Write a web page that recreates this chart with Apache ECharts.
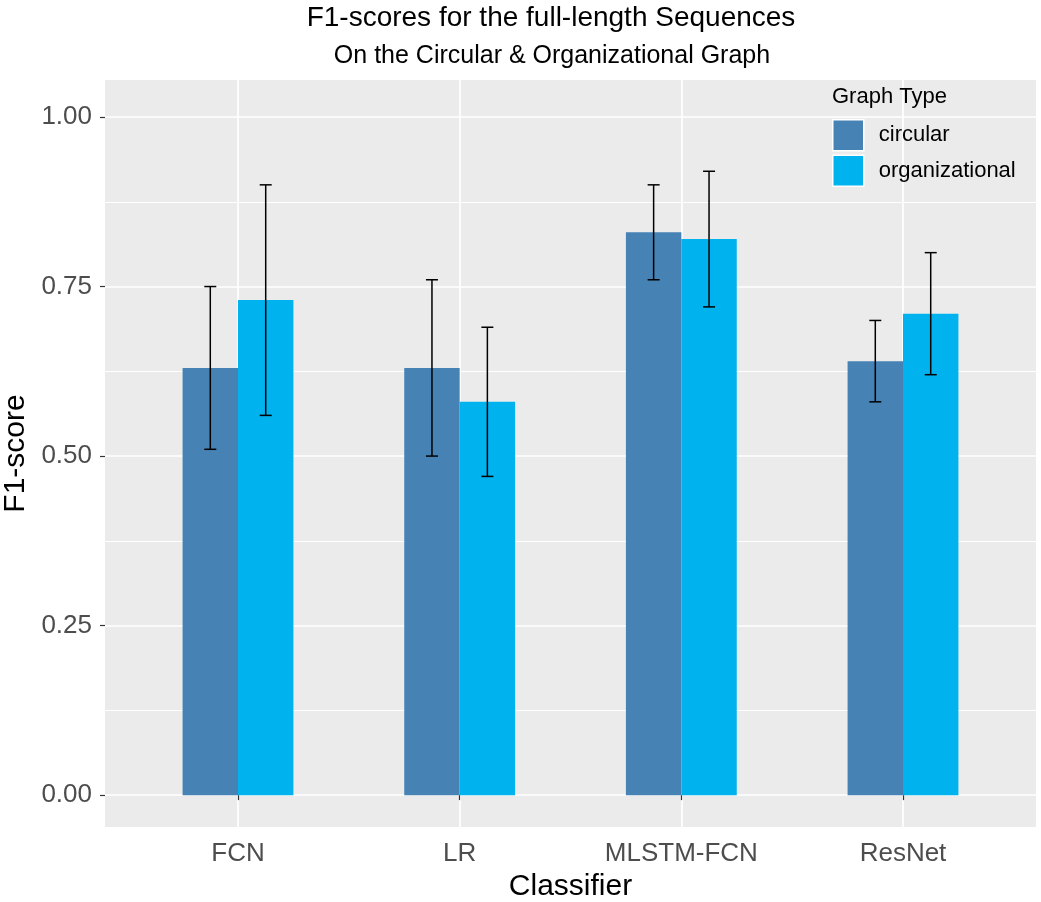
<!DOCTYPE html>
<html>
<head>
<meta charset="utf-8">
<script src="https://cdn.jsdelivr.net/npm/echarts@6/dist/echarts.min.js"></script>
<style>html,body{margin:0;padding:0;background:#fff;}#chart{width:1041px;height:902px;}</style>
</head>
<body>
<div id="chart"></div>
<script>
const categories = ['FCN', 'LR', 'MLSTM-FCN', 'ResNet'];
const seriesNames = ['circular', 'organizational'];
const circular = [0.63, 0.63, 0.83, 0.64];
const circularLow = [0.51, 0.50, 0.76, 0.58];
const circularHigh = [0.75, 0.76, 0.90, 0.70];
const organizational = [0.73, 0.58, 0.82, 0.71];
const organizationalLow = [0.56, 0.47, 0.72, 0.62];
const organizationalHigh = [0.90, 0.69, 0.92, 0.80];
const yTicks = [0, 0.25, 0.5, 0.75, 1.0];
const yMinorTicks = [0.125, 0.375, 0.625, 0.875];

const FONT = '"Liberation Sans", Arial, sans-serif';
const colors = ['#4682B4', '#00B2EE'];
const catPositions = categories.map((c, i) => i + 1);

function buildData(vals, lo, hi) {
  return vals.map((v, i) => [catPositions[i], v, lo[i], hi[i]]);
}

function makeRender(side) {
  return function (params, api) {
    const x = api.value(0), y = api.value(1), lo = api.value(2), hi = api.value(3);
    const x0 = side < 0 ? x - 0.25 : x;
    const x1 = side < 0 ? x : x + 0.25;
    const xm = (x0 + x1) / 2;
    const pTop = api.coord([x0, y]);
    const pBot = api.coord([x1, 0]);
    const eLo = api.coord([xm, lo]);
    const eHi = api.coord([xm, hi]);
    const cap = 6;
    const color = api.visual('color');
    const lineStyle = { stroke: '#000', lineWidth: 1.5 };
    return {
      type: 'group',
      children: [
        { type: 'rect', shape: { x: pTop[0], y: pTop[1], width: pBot[0] - pTop[0], height: pBot[1] - pTop[1] }, style: { fill: color } },
        { type: 'line', z2: 10, shape: { x1: eLo[0], y1: eLo[1], x2: eHi[0], y2: eHi[1] }, style: lineStyle },
        { type: 'line', z2: 10, shape: { x1: eLo[0] - cap, y1: eLo[1], x2: eLo[0] + cap, y2: eLo[1] }, style: lineStyle },
        { type: 'line', z2: 10, shape: { x1: eHi[0] - cap, y1: eHi[1], x2: eHi[0] + cap, y2: eHi[1] }, style: lineStyle }
      ]
    };
  };
}

const chart = echarts.init(document.getElementById('chart'), null, { renderer: 'canvas' });
chart.setOption({
  animation: false,
  backgroundColor: '#ffffff',
  textStyle: { fontFamily: FONT },
  title: [
    { text: 'F1-scores for the full-length Sequences', left: 551, top: 4, padding: 0, textAlign: 'center',
      textStyle: { fontFamily: FONT, fontSize: 28, fontWeight: 'normal', color: '#000' } },
    { text: 'On the Circular & Organizational Graph', left: 552, top: 44, padding: 0, textAlign: 'center',
      textStyle: { fontFamily: FONT, fontSize: 25, fontWeight: 'normal', color: '#000' } },
    { text: 'Graph Type', left: 832, top: 86, padding: 0,
      textStyle: { fontFamily: FONT, fontSize: 22, fontWeight: 'normal', color: '#000' } }
  ],
  legend: {
    orient: 'vertical', left: 832, top: 119, padding: 0,
    itemWidth: 31, itemHeight: 31, itemGap: 3, icon: 'rect',
    data: seriesNames,
    itemStyle: { borderColor: '#fff', borderWidth: 1.5 },
    textStyle: { fontFamily: FONT, fontSize: 22, color: '#000', padding: [0, 0, 0, 10] }
  },
  grid: { left: 105, right: 5, top: 80, bottom: 75, show: true, backgroundColor: '#EBEBEB', borderWidth: 0,
    containLabel: false, outerBoundsMode: 'none' },
  xAxis: {
    type: 'value', min: 0.4, max: 4.6,
    name: 'Classifier', nameLocation: 'middle', nameGap: 43,
    nameTextStyle: { fontFamily: FONT, fontSize: 30, color: '#000' },
    axisLine: { show: false },
    axisTick: { show: true, length: 5, customValues: catPositions, lineStyle: { color: '#333', width: 1.2 } },
    axisLabel: { customValues: catPositions, margin: 14, fontFamily: FONT, fontSize: 26, color: '#4D4D4D',
      formatter: v => categories[Math.round(v) - 1] },
    splitLine: { show: true, lineStyle: { color: '#fff', width: 1.7 } }
  },
  yAxis: [
    {
      type: 'value', min: -0.047, max: 1.0546,
      name: 'F1-score', nameLocation: 'middle', nameGap: 63,
      nameTextStyle: { fontFamily: FONT, fontSize: 30, color: '#000' },
      axisLine: { show: false },
      axisTick: { show: true, length: 5, customValues: yTicks, lineStyle: { color: '#333', width: 1.2 } },
      axisLabel: { customValues: yTicks, margin: 13, fontFamily: FONT, fontSize: 26, color: '#4D4D4D',
        formatter: v => v.toFixed(2) },
      splitLine: { show: true, lineStyle: { color: '#fff', width: 1.7 } }
    },
    {
      type: 'value', min: -0.047, max: 1.0546, position: 'left',
      axisLine: { show: false },
      axisTick: { show: false, customValues: yMinorTicks },
      axisLabel: { show: false, customValues: yMinorTicks },
      splitLine: { show: true, lineStyle: { color: '#fff', width: 1 } }
    }
  ],
  series: [
    { name: seriesNames[0], type: 'custom', renderItem: makeRender(-1), itemStyle: { color: colors[0] },
      encode: { x: 0, y: 1 }, data: buildData(circular, circularLow, circularHigh), z: 3 },
    { name: seriesNames[1], type: 'custom', renderItem: makeRender(1), itemStyle: { color: colors[1] },
      encode: { x: 0, y: 1 }, data: buildData(organizational, organizationalLow, organizationalHigh), z: 3 }
  ]
});
</script>
</body>
</html>
